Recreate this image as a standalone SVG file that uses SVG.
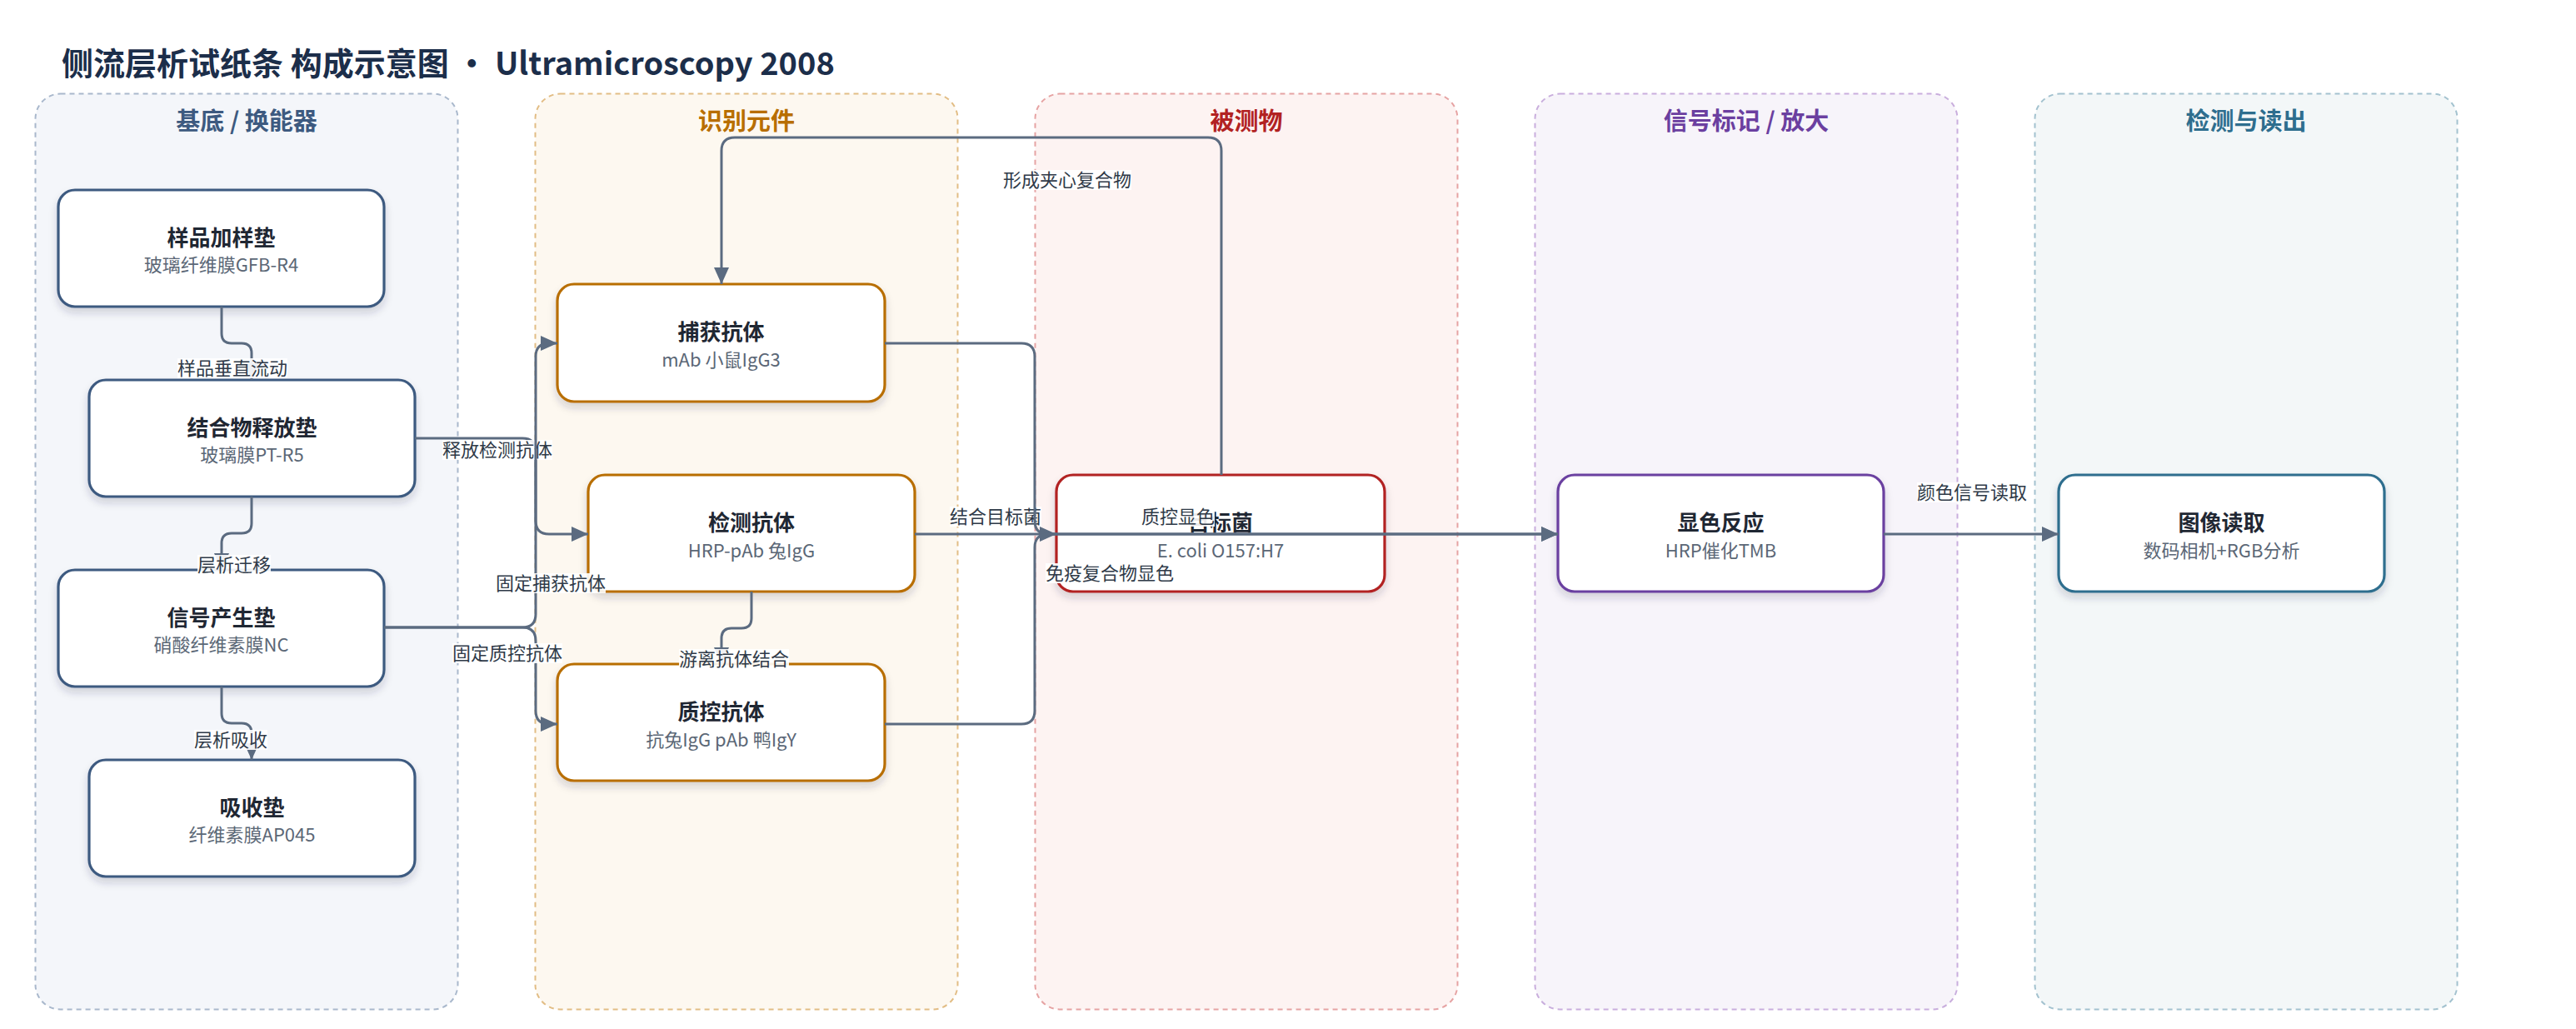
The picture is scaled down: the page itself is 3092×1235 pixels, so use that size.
<svg xmlns="http://www.w3.org/2000/svg" width="3092" height="1235" viewBox="0 0 3092 1235">
<style>
text{font-family:"Noto Sans CJK SC","Noto Sans",sans-serif}
.ttl{font-size:38px;font-weight:700;fill:#1c2e4a}
.lt{font-size:29px;font-weight:700;text-anchor:middle}
.lane{stroke-width:2;stroke-dasharray:6 5}
.nd{fill:#fff;stroke-width:3.2;filter:url(#sh)}
.nt{font-size:26px;font-weight:700;fill:#1f2733;text-anchor:middle}
.ns{font-size:22px;fill:#5b6776;text-anchor:middle}
.e{fill:none;stroke:#5b6b80;stroke-width:3}
.ea{fill:none;stroke:#5b6b80;stroke-width:3;marker-end:url(#ah)}
.lb{fill:#fff;fill-opacity:0.9}
.lx{font-size:22px;fill:#2f3a48;text-anchor:middle}
</style>
<defs>
<filter id="sh" x="-10%" y="-10%" width="120%" height="135%">
<feDropShadow dx="0" dy="6" stdDeviation="5" flood-color="#1c2e4a" flood-opacity="0.18"/>
</filter>
<marker id="ah" markerUnits="userSpaceOnUse" markerWidth="22" markerHeight="20" refX="20" refY="10" orient="auto">
<path d="M0,1 L20,10 L0,19 z" fill="#5b6b80"/>
</marker>
</defs>
<rect width="3092" height="1235" fill="#fff"/>
<text class="ttl" x="74" y="90">侧流层析试纸条 构成示意图 · Ultramicroscopy 2008</text>

<g id="lanes">
<g id="lane-substrate"><rect class="lane" x="42.5" y="112.5" width="507" height="1099" rx="30" fill="#f4f6fa" stroke="#a9b8cc"/><text class="lt" x="296" y="156" fill="#3d5a80">基底 / 换能器</text></g>
<g id="lane-recognition"><rect class="lane" x="642.5" y="112.5" width="507" height="1099" rx="30" fill="#fdf8f0" stroke="#e2bd85"/><text class="lt" x="896" y="156" fill="#b86e00">识别元件</text></g>
<g id="lane-analyte"><rect class="lane" x="1242.5" y="112.5" width="507" height="1099" rx="30" fill="#fdf3f2" stroke="#e6a3a3"/><text class="lt" x="1496" y="156" fill="#b22222">被测物</text></g>
<g id="lane-signal"><rect class="lane" x="1842.5" y="112.5" width="507" height="1099" rx="30" fill="#f7f4fa" stroke="#c9aedd"/><text class="lt" x="2096" y="156" fill="#6b3fa0">信号标记 / 放大</text></g>
<g id="lane-readout"><rect class="lane" x="2442.5" y="112.5" width="507" height="1099" rx="30" fill="#f3f7f8" stroke="#a3c2cf"/><text class="lt" x="2696" y="156" fill="#2e6e8e">检测与读出</text></g>
</g>

<g id="nodes">
<g id="n-sample-pad"><rect class="nd" x="70" y="228" width="391" height="140" rx="20" stroke="#3d5a80"/><text class="nt" x="265.5" y="295">样品加样垫</text><text class="ns" x="265.5" y="326">玻璃纤维膜GFB-R4</text></g>
<g id="n-conjugate-pad"><rect class="nd" x="107" y="456" width="391" height="140" rx="20" stroke="#3d5a80"/><text class="nt" x="302.5" y="523">结合物释放垫</text><text class="ns" x="302.5" y="554">玻璃膜PT-R5</text></g>
<g id="n-nc-pad"><rect class="nd" x="70" y="684" width="391" height="140" rx="20" stroke="#3d5a80"/><text class="nt" x="265.5" y="751">信号产生垫</text><text class="ns" x="265.5" y="782">硝酸纤维素膜NC</text></g>
<g id="n-absorbent-pad"><rect class="nd" x="107" y="912" width="391" height="140" rx="20" stroke="#3d5a80"/><text class="nt" x="302.5" y="979">吸收垫</text><text class="ns" x="302.5" y="1010">纤维素膜AP045</text></g>

<g id="n-capture-ab"><rect class="nd" x="669" y="341" width="393" height="141" rx="20" stroke="#b86e00"/><text class="nt" x="865.5" y="408">捕获抗体</text><text class="ns" x="865.5" y="440">mAb 小鼠IgG3</text></g>
<g id="n-detect-ab"><rect class="nd" x="706" y="570" width="392" height="140" rx="20" stroke="#b86e00"/><text class="nt" x="902" y="637">检测抗体</text><text class="ns" x="902" y="669">HRP-pAb 兔IgG</text></g>
<g id="n-control-ab"><rect class="nd" x="669" y="797" width="393" height="140" rx="20" stroke="#b86e00"/><text class="nt" x="865.5" y="864">质控抗体</text><text class="ns" x="865.5" y="896">抗兔IgG pAb 鸭IgY</text></g>

<g id="n-target"><rect class="nd" x="1268" y="570" width="394" height="140" rx="20" stroke="#b22222"/><text class="nt" x="1465" y="637">目标菌</text><text class="ns" x="1465" y="669">E. coli O157:H7</text></g>

<g id="n-color"><rect class="nd" x="1870" y="570" width="391" height="140" rx="20" stroke="#6b3fa0"/><text class="nt" x="2065.5" y="637">显色反应</text><text class="ns" x="2065.5" y="669">HRP催化TMB</text></g>

<g id="n-image"><rect class="nd" x="2471" y="570" width="391" height="140" rx="20" stroke="#2e6e8e"/><text class="nt" x="2666.5" y="637">图像读取</text><text class="ns" x="2666.5" y="669">数码相机+RGB分析</text></g>
</g>

<g id="connectors">
<g id="e1"><path class="ea" d="M266,368 V400 Q266,412 278,412 H290 Q302,412 302,424 V456"/><rect class="lb" x="213" y="430" width="132" height="24"/><text class="lx" x="279" y="450">样品垂直流动</text></g>
<g id="e2"><path class="ea" d="M302,596 V628 Q302,640 290,640 H278 Q266,640 266,652 V684"/><rect class="lb" x="237" y="666" width="88" height="24"/><text class="lx" x="281" y="686">层析迁移</text></g>
<g id="e3"><path class="ea" d="M266,824 V856 Q266,868 278,868 H290 Q302,868 302,880 V912"/><rect class="lb" x="233" y="876" width="88" height="24"/><text class="lx" x="277" y="896">层析吸收</text></g>
<g id="e4"><path class="ea" d="M498,526 H627 Q643,526 643,542 V625 Q643,641 659,641 H706"/><rect class="lb" x="531" y="528" width="132" height="24"/><text class="lx" x="597" y="548">释放检测抗体</text></g>
<g id="e5"><path class="ea" d="M461,753 H627 Q643,753 643,737 V428 Q643,412 659,412 H669"/><rect class="lb" x="595" y="688" width="132" height="24"/><text class="lx" x="661" y="708">固定捕获抗体</text></g>
<g id="e6"><path class="ea" d="M461,753 H627 Q643,753 643,769 V853 Q643,869 659,869 H669"/><rect class="lb" x="543" y="772" width="132" height="24"/><text class="lx" x="609" y="792">固定质控抗体</text></g>
<g id="e7"><path class="ea" d="M902,710 V742 Q902,754 890,754 H878 Q866,754 866,766 V797"/><rect class="lb" x="815" y="779" width="132" height="24"/><text class="lx" x="881" y="799">游离抗体结合</text></g>
<g id="e8"><path class="ea" d="M1466,570 V181 Q1466,165 1450,165 H882 Q866,165 866,181 V341"/><rect class="lb" x="1204" y="204" width="154" height="24"/><text class="lx" x="1281" y="224">形成夹心复合物</text></g>
<g id="e9"><path class="ea" d="M1098,641 H1268"/><rect class="lb" x="1140" y="608" width="110" height="24"/><text class="lx" x="1195" y="628">结合目标菌</text></g>
<g id="e10"><path class="ea" d="M1062,412 H1226 Q1242,412 1242,428 V625 Q1242,641 1258,641 H1870"/><rect class="lb" x="1255" y="676" width="154" height="24"/><text class="lx" x="1332" y="696">免疫复合物显色</text></g>
<g id="e11"><path class="ea" d="M1062,869 H1226 Q1242,869 1242,853 V657 Q1242,641 1258,641 H1870"/><rect class="lb" x="1370" y="608" width="88" height="24"/><text class="lx" x="1414" y="628">质控显色</text></g>
<g id="e12"><path class="ea" d="M2261,641 H2471"/><rect class="lb" x="2301" y="579" width="132" height="24"/><text class="lx" x="2367" y="599">颜色信号读取</text></g>
</g>
</svg>
